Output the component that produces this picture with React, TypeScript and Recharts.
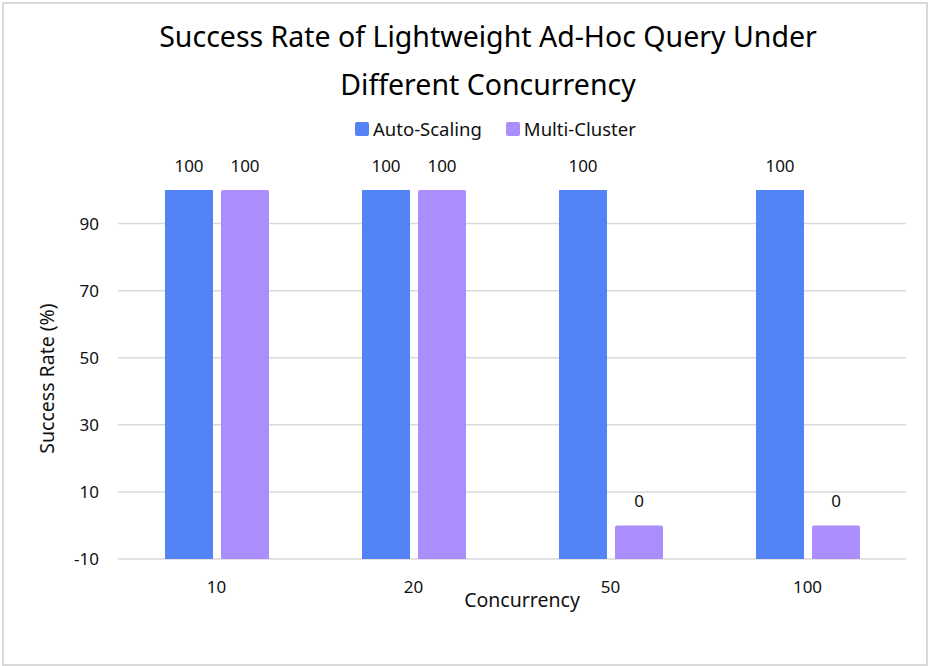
import { BarChart, Bar, XAxis, YAxis, CartesianGrid, Legend, LabelList } from "recharts";

const concurrency = ["10", "20", "50", "100"];
const autoScaling = [100, 100, 100, 100];
const multiCluster = [100, 100, 0, 0];
const yTicks = [-10, 10, 30, 50, 70, 90];
const Y_MIN = -10;
const Y_MAX = 100;

const BLUE = "#5383F4";
const PURPLE = "#AB8DFB";
const FONT = "'Noto Sans', sans-serif";

const data = concurrency.map((c, i) => ({
  concurrency: c,
  auto: autoScaling[i],
  multi: multiCluster[i]
}));

// bars start at the bottom of the axis, not at zero
const fromFloor = (key: "auto" | "multi") => (d: any) => [Y_MIN, d[key]];

const renderLegend = (props: any) => (
  <div style={{ display: "flex", paddingLeft: 355, fontFamily: FONT, fontSize: 18.5, color: "#111" }}>
    {(props.payload || []).map((p: any) => (
      <div key={p.value} style={{ display: "flex", alignItems: "center", marginRight: 24 }}>
        <span style={{ width: 14, height: 14, borderRadius: 2, background: p.color, marginRight: 4 }} />
        <span>{p.value}</span>
      </div>
    ))}
  </div>
);

export default function App() {
  return (
    <div style={{ position: "absolute", left: 0, top: 0, width: 930, height: 666, background: "#fff", fontFamily: FONT }}>
      <div style={{ position: "absolute", left: 2, top: 2, width: 922, height: 660, border: "2px solid #d9d9d9" }} />

      <div
        style={{
          position: "absolute",
          left: 23,
          top: 12,
          width: 930,
          textAlign: "center",
          fontSize: 28.5,
          lineHeight: "48px",
          color: "#000"
        }}
      >
        Success Rate of Lightweight Ad-Hoc Query Under
        <br />
        Different Concurrency
      </div>

      <BarChart
        width={930}
        height={666}
        data={data}
        margin={{ top: 190, right: 24, bottom: 57, left: 0 }}
        barSize={48}
        barGap={8}
        style={{ position: "absolute", left: 0, top: 0 }}
      >
        {/* grid only on the labelled ticks, no line along the top edge */}
        <CartesianGrid vertical={false} stroke="#d9d9d9" strokeWidth={1.5} syncWithTicks />
        <XAxis
          dataKey="concurrency"
          height={50}
          axisLine={false}
          tickLine={false}
          tickSize={0}
          tickMargin={22}
          tick={{ fontSize: 17, fill: "#111", fontFamily: FONT }}
          label={{
            value: "Concurrency",
            position: "insideBottom",
            offset: 2,
            dx: 10,
            style: { fontSize: 19.5, fill: "#111", fontFamily: FONT }
          }}
        />
        <YAxis
          type="number"
          domain={[Y_MIN, Y_MAX]}
          ticks={yTicks}
          width={118}
          axisLine={false}
          tickLine={false}
          tickSize={0}
          tickMargin={19}
          tick={{ fontSize: 17, fill: "#111", fontFamily: FONT }}
          label={{
            value: "Success Rate (%)",
            angle: -90,
            position: "insideLeft",
            offset: 47,
            dy: 4,
            style: { fontSize: 19.5, fill: "#111", fontFamily: FONT, textAnchor: "middle" }
          }}
        />
        <Legend
          verticalAlign="middle"
          align="center"
          layout="horizontal"
          wrapperStyle={{ top: 116, left: 0, width: 930 }}
          content={renderLegend}
        />
        <Bar dataKey={fromFloor("auto")} name="Auto-Scaling" fill={BLUE} isAnimationActive={false}>
          <LabelList dataKey="auto" position="top" offset={18} style={{ fontSize: 17, fill: "#111", fontFamily: FONT }} />
        </Bar>
        <Bar dataKey={fromFloor("multi")} name="Multi-Cluster" fill={PURPLE} radius={[2, 2, 0, 0]} isAnimationActive={false}>
          <LabelList dataKey="multi" position="top" offset={18} style={{ fontSize: 17, fill: "#111", fontFamily: FONT }} />
        </Bar>
      </BarChart>
    </div>
  );
}
